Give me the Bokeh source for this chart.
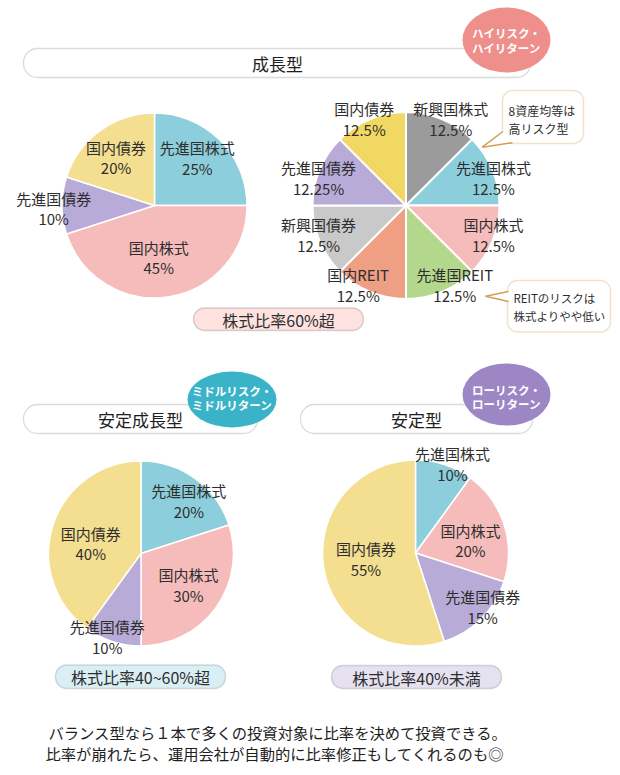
import math
from bokeh.plotting import figure
from bokeh.models import BoxAnnotation, Range1d, ColumnDataSource
from bokeh.core.properties import value
from bokeh.embed import file_html
from bokeh.resources import INLINE

# ---------------- data ----------------
growth_names = ["先進国株式", "国内株式", "先進国債券", "国内債券"]
growth_values = [25, 45, 10, 20]
growth_pcts = ["25%", "45%", "10%", "20%"]

equal_names = ["新興国株式", "先進国株式", "国内株式", "先進国REIT",
               "国内REIT", "新興国債券", "先進国債券", "国内債券"]
equal_values = [12.5, 12.5, 12.5, 12.5, 12.5, 12.5, 12.5, 12.5]
equal_pcts = ["12.5%", "12.5%", "12.5%", "12.5%", "12.5%", "12.5%", "12.25%", "12.5%"]

sgrowth_names = ["先進国株式", "国内株式", "先進国債券", "国内債券"]
sgrowth_values = [20, 30, 10, 40]
sgrowth_pcts = ["20%", "30%", "10%", "40%"]

stable_names = ["先進国株式", "国内株式", "先進国債券", "国内債券"]
stable_values = [10, 20, 15, 55]
stable_pcts = ["10%", "20%", "15%", "55%"]

titles = ["成長型", "安定成長型", "安定型"]
badges = ["ハイリスク・\nハイリターン", "ミドルリスク・\nミドルリターン", "ローリスク・\nローリターン"]
pills = ["株式比率60%超", "株式比率40~60%超", "株式比率40%未満"]
callout1 = ["8資産均等は", "高リスク型"]
callout2 = ["REITのリスクは", "株式よりやや低い"]
footer = ["バランス型なら１本で多くの投資対象に比率を決めて投資できる。",
          "比率が崩れたら、運用会社が自動的に比率修正もしてくれるのも◎"]

# ---------------- style ----------------
FONT = value("Noto Sans CJK JP")
TEAL = "#8ccedb"
PINK = "#f6bcbb"
PURPLE = "#b8abd7"
YEL = "#f3df8f"
YEL2 = "#f1d862"
GRAY = "#9b9b9b"
LGRAY = "#c9c9c9"
SALMON = "#ee9f84"
GREEN = "#b4d78e"
TXT = "#2e2e2e"

W, H = 612, 767


def Y(y):
    return 775 - y


p = figure(width=W, height=H, output_backend="svg", toolbar_location=None,
           x_range=Range1d(0, W), y_range=Range1d(775 - H, 775),
           x_axis_type=None, y_axis_type=None, min_border=0)
p.outline_line_color = None
p.grid.visible = False
p.background_fill_color = "white"


def rbox(l, r, t, b, fill, line, rad, lw=1.3):
    bx = BoxAnnotation(left=l, right=r, top=Y(t), bottom=Y(b), fill_color=fill,
                       fill_alpha=1, line_color=line, line_width=lw,
                       border_radius=rad, level="underlay")
    p.add_layout(bx)


def pie(cx, cy, r, vals, names, pcts, colors, lw, fs, nudges):
    total = sum(vals)
    starts, ends, mids = [], [], []
    acc = 0
    for v in vals:
        a0 = 90 - 360 * acc / total
        acc += v
        a1 = 90 - 360 * acc / total
        starts.append(math.radians(a0))
        ends.append(math.radians(a1))
        mids.append(math.radians((a0 + a1) / 2))
    n = len(vals)
    src = ColumnDataSource(dict(x=[cx] * n, y=[Y(cy)] * n, s=starts, e=ends, c=colors))
    p.wedge(x="x", y="y", radius=r, start_angle="s", end_angle="e", direction="clock",
            fill_color="c", line_color="white", line_width=lw, source=src)
    lx, ly = [], []
    for m, (f, dx, dy) in zip(mids, nudges):
        lx.append(cx + f * r * math.cos(m) + dx)
        ly.append(Y(cy - f * r * math.sin(m) + dy))
    p.text(x=lx, y=[v + 10.3 for v in ly], text=names, text_font=FONT, text_font_size=fs,
           text_color=TXT, text_align="center", text_baseline="middle")
    p.text(x=lx, y=[v - 10.3 for v in ly], text=pcts, text_font=FONT, text_font_size=fs,
           text_color=TXT, text_align="center", text_baseline="middle")


# ---------------- title boxes ----------------
rbox(23, 530, 48, 77, "white", "#888888", 14)
rbox(23, 257, 404, 433, "white", "#888888", 14)
rbox(300, 532, 404, 433, "white", "#888888", 14)
p.text(x=[277, 140, 416], y=[Y(63), Y(419), Y(419)], text=titles, text_font=FONT,
       text_font_size="17px", text_color="#1e1e1e", text_align="center",
       text_baseline="middle")

# badges
p.ellipse(x=[506, 231.5, 506], y=[Y(39.5), Y(399), Y(394)], width=[88, 89, 88],
          height=[65, 56, 62], fill_color=["#ef8f8c", "#3ab3c8", "#9c87c4"], line_color=None)
b_lines1 = [b.split("\n")[0] for b in badges]
b_lines2 = [b.split("\n")[1] for b in badges]
p.text(x=[506, 231.5, 506], y=[Y(32), Y(390), Y(389)], text=b_lines1, text_font=FONT,
       text_font_size="11.5px", text_font_style="bold", text_color="white",
       text_align="center", text_baseline="middle")
p.text(x=[506, 231.5, 506], y=[Y(47), Y(404), Y(403)], text=b_lines2, text_font=FONT,
       text_font_size="11.5px", text_font_style="bold", text_color="white",
       text_align="center", text_baseline="middle")

# ---------------- pies ----------------
pie(154, 205, 92.5, growth_values, growth_names, growth_pcts, [TEAL, PINK, PURPLE, YEL], 1.5,
    "15px", [(0.70, -3, -2), (0.57, -4, 0), (1.09, 0, 3), (0.67, -2, 2)])
pie(405.5, 205, 93.5, equal_values, equal_names, equal_pcts,
    [GRAY, TEAL, PINK, GREEN, SALMON, LGRAY, PURPLE, YEL2], 2, "15px",
    [(1.0, 9, 0), (1.0, 1, 8), (1.0, 1, -6), (1.0, 13, -7), (1.0, -12, -7),
     (1.0, -1, -6), (1.0, -1, 8), (1.0, -6, 0)])
pie(140.5, 553, 92.5, sgrowth_values, sgrowth_names, sgrowth_pcts, [TEAL, PINK, PURPLE, YEL], 1.5,
    "15px", [(0.77, 6, 5), (0.62, 1, -2), (0.97, -6, -2), (0.56, -1, 6)])
pie(415, 552.5, 93, stable_values, stable_names, stable_pcts, [TEAL, PINK, PURPLE, YEL], 1.5,
    "15px", [(1.04, 7, 3), (0.61, 1, 5), (0.93, 6, -7), (0.54, 0, -2)])

# ---------------- pills ----------------
rbox(193, 363, 307.5, 330, "#fde2e0", "#857575", 11)
rbox(55, 225, 664.5, 688, "#d9eff4", "#7f8f94", 11)
rbox(331, 501, 665, 688, "#e6e1f0", "#83808f", 11)
p.text(x=[278, 140, 416], y=[Y(319), Y(676.5), Y(677)], text=pills, text_font=FONT,
       text_font_size="16px", text_color="#2e2e2e", text_align="center",
       text_baseline="middle")

# ---------------- callouts ----------------
CO = "#d49f55"
rbox(502, 583, 90, 143, "white", CO, 10, 1.5)
rbox(507, 610, 280, 331.5, "white", CO, 10, 1.5)
p.patches(xs=[[481.7, 502.5, 512], [485, 508, 508]],
          ys=[[Y(146.7), Y(131), Y(142.2)], [Y(295.7), Y(291), Y(301)]],
          fill_color="white", line_color=None)
p.multi_line(xs=[[502.5, 481.7, 512], [508, 485, 508]],
             ys=[[Y(131), Y(146.7), Y(142.2)], [Y(291), Y(295.7), Y(301)]],
             line_color=CO, line_width=1.5)
p.text(x=[508, 508], y=[Y(110), Y(127.5)], text=callout1, text_font=FONT,
       text_font_size="12px", text_color="#2e2e2e", text_align="left", text_baseline="middle")
p.text(x=[513, 513], y=[Y(297), Y(315)], text=callout2, text_font=FONT,
       text_font_size="11.5px", text_color="#2e2e2e", text_align="left", text_baseline="middle")

# ---------------- footer ----------------
p.text(x=[48, 45], y=[Y(731), Y(752)], text=footer, text_font=FONT,
       text_font_size="15.3px", text_color="#1e1e1e", text_align="left",
       text_baseline="middle")

open("out.html", "w").write(file_html(p, INLINE))
